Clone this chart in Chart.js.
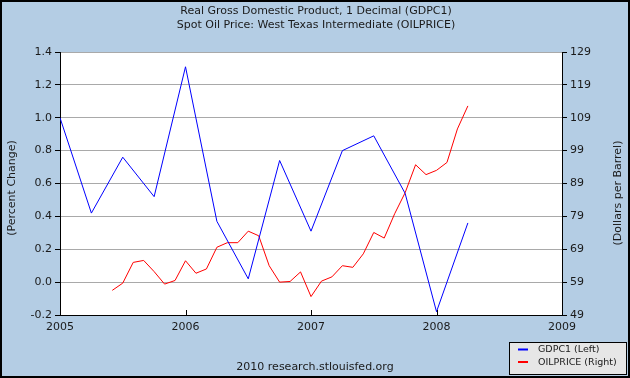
<!DOCTYPE html>
<html><head><meta charset="utf-8">
<script src="https://cdn.jsdelivr.net/npm/chart.js@4/dist/chart.umd.min.js"></script>
<style>html,body{margin:0;padding:0;background:#b4cde4;}canvas{display:block;}</style>
</head><body>
<canvas id="c" width="630" height="378"></canvas>
<script>
const titleLines = ['Real Gross Domestic Product, 1 Decimal (GDPC1)', 'Spot Oil Price: West Texas Intermediate (OILPRICE)'];
const footerText = '2010 research.stlouisfed.org';
const leftAxisTitle = '(Percent Change)';
const rightAxisTitle = '(Dollars per Barrel)';

const gdpDates = ['2005-01','2005-04','2005-07','2005-10','2006-01','2006-04','2006-07','2006-10','2007-01','2007-04','2007-07','2007-10','2008-01','2008-04'];
const gdpValues = [1.0, 0.42, 0.76, 0.52, 1.31, 0.37, 0.02, 0.74, 0.31, 0.80, 0.89, 0.54, -0.18, 0.36];

const oilDates = ['2005-06','2005-07','2005-08','2005-09','2005-10','2005-11','2005-12',
  '2006-01','2006-02','2006-03','2006-04','2006-05','2006-06','2006-07','2006-08','2006-09','2006-10','2006-11','2006-12',
  '2007-01','2007-02','2007-03','2007-04','2007-05','2007-06','2007-07','2007-08','2007-09','2007-10','2007-11','2007-12',
  '2008-01','2008-02','2008-03','2008-04'];
const oilValues = [56.5, 58.7, 65.0, 65.6, 62.2, 58.4, 59.5,
  65.5, 61.7, 63.0, 69.6, 71.0, 71.0, 74.5, 73.1, 64.0, 59.0, 59.2, 62.1,
  54.6, 59.3, 60.6, 64.0, 63.5, 67.6, 74.1, 72.4, 79.8, 86.2, 94.7, 91.7,
  93.0, 95.4, 105.6, 112.6];

const xTickLabels = ['2005','2006','2007','2008','2009'];
const leftTickLabels = ['-0.2','0.0','0.2','0.4','0.6','0.8','1.0','1.2','1.4'];
const rightTickLabels = ['49','59','69','79','89','99','109','119','129'];

const seriesNames = ['GDPC1 (Left)', 'OILPRICE (Right)'];
const seriesColors = ['#0000ff', '#ff0000'];

function toYear(s){ const [y,m] = s.split('-').map(Number); return y + (m-1)/12; }
const gdpData = gdpDates.map((d,i)=>({x: toYear(d), y: gdpValues[i]}));
const oilData = oilDates.map((d,i)=>({x: toYear(d), y: oilValues[i]}));

const FONT = 'DejaVu Sans';
const TXT = '#1a1a1a';

const decor = {
  id: 'decor',
  beforeDraw(chart){
    const ctx = chart.ctx, a = chart.chartArea;
    ctx.save();
    ctx.fillStyle = '#b4cde4';
    ctx.fillRect(0,0,chart.width,chart.height);
    ctx.fillStyle = '#ffffff';
    ctx.fillRect(a.left, a.top, a.right-a.left, a.bottom-a.top);
    ctx.restore();
  },
  afterDraw(chart){
    const ctx = chart.ctx, a = chart.chartArea;
    ctx.save();
    // outer border
    ctx.strokeStyle = '#000'; ctx.lineWidth = 2;
    ctx.strokeRect(1,1,chart.width-2,chart.height-2);
    // inner x ticks
    const xs = chart.scales.x;
    ctx.lineWidth = 1; ctx.strokeStyle = '#000';
    xs.ticks.forEach(t=>{
      const px = Math.round(xs.getPixelForValue(t.value)) + 0.5;
      ctx.beginPath(); ctx.moveTo(px, a.bottom); ctx.lineTo(px, a.bottom-5); ctx.stroke();
    });
    // titles
    ctx.fillStyle = TXT; ctx.textAlign = 'center'; ctx.textBaseline = 'middle';
    ctx.font = '11px ' + FONT;
    ctx.fillText(titleLines[0], 316, 11.5);
    ctx.fillText(titleLines[1], 316, 25);
    // footer
    ctx.fillText(footerText, 315, 367);
    // axis titles
    ctx.save(); ctx.translate(12, 188); ctx.rotate(-Math.PI/2); ctx.fillText(leftAxisTitle, 0, 0); ctx.restore();
    ctx.save(); ctx.translate(618, 193); ctx.rotate(-Math.PI/2); ctx.fillText(rightAxisTitle, 0, 0); ctx.restore();
    // legend
    ctx.fillStyle = '#e6e6e6'; ctx.fillRect(509.5, 342.5, 117, 32);
    ctx.strokeStyle = '#000'; ctx.lineWidth = 1; ctx.strokeRect(509.5, 342.5, 117, 32);
    ctx.font = '9.5px ' + FONT; ctx.textAlign = 'left';
    chart.data.datasets.forEach((ds,i)=>{
      const y = 349.5 + i*12.5;
      ctx.strokeStyle = ds.borderColor; ctx.lineWidth = 2;
      ctx.beginPath(); ctx.moveTo(518, y); ctx.lineTo(528, y); ctx.stroke();
      ctx.fillStyle = TXT; ctx.fillText(ds.label, 538, y+0.5);
    });
    ctx.restore();
  }
};

new Chart(document.getElementById('c'), {
  type: 'line',
  data: {
    datasets: [
      {label: seriesNames[0], data: gdpData, borderColor: seriesColors[0], borderWidth: 1, pointRadius: 0, tension: 0, yAxisID: 'y', fill: false},
      {label: seriesNames[1], data: oilData, borderColor: seriesColors[1], borderWidth: 1, pointRadius: 0, tension: 0, yAxisID: 'y1', fill: false}
    ]
  },
  options: {
    responsive: false, animation: false, devicePixelRatio: 1,
    layout: {padding: {top: 52, bottom: 0, left: 0, right: 0}},
    plugins: {legend: {display: false}, title: {display: false}, tooltip: {enabled: false}},
    scales: {
      x: {
        type: 'linear', min: 2005, max: 2009,
        afterFit(s){ s.height = 63; },
        ticks: {stepSize: 1, color: TXT, font: {family: FONT, size: 11}, padding: 6,
          callback: (v, i) => xTickLabels[i]},
        grid: {display: true, drawOnChartArea: false, drawTicks: false},
        border: {color: '#000', width: 1}
      },
      y: {
        position: 'left', min: -0.2, max: 1.4,
        afterFit(s){ s.width = 60; },
        ticks: {stepSize: 0.2, color: TXT, font: {family: FONT, size: 11}, padding: 3,
          callback: (v, i) => leftTickLabels[i]},
        grid: {color: '#a9a9a9', lineWidth: 1, tickColor: '#000', tickLength: 5},
        border: {color: '#000', width: 1}
      },
      y1: {
        position: 'right', min: 49, max: 129,
        afterFit(s){ s.width = 68; },
        ticks: {stepSize: 10, color: TXT, font: {family: FONT, size: 11}, padding: 3,
          callback: (v, i) => rightTickLabels[i]},
        grid: {drawOnChartArea: false, tickColor: '#000', tickLength: 5},
        border: {color: '#000', width: 1}
      }
    }
  },
  plugins: [decor]
});
</script>
</body></html>
